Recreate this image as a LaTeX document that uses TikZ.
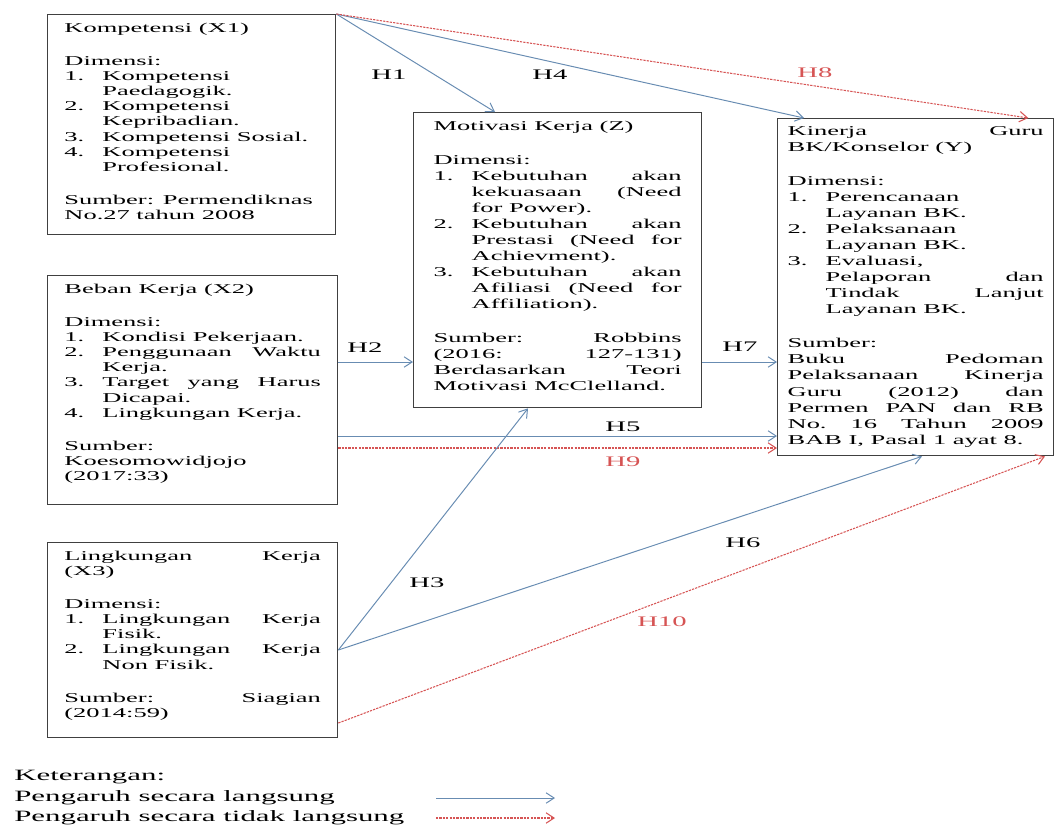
\documentclass[tikz,border=0pt]{standalone}
\usepackage{fontspec}
\setmainfont{Liberation Serif}[FakeStretch=1.96]
\usepackage{xcolor}
\usetikzlibrary{arrows.meta, calc}
\definecolor{garisbiru}{RGB}{104,140,178}
\definecolor{garismerah}{RGB}{214,84,84}
\newcommand\butir[2]{\makebox[0.95cm][l]{#1}#2}
\newcommand\lanjut[1]{\hspace*{0.95cm}#1}
\newcommand\isi[3]{\begin{minipage}[t][#2][t]{#1}#3\end{minipage}}
\tikzset{
	kotak/.style={draw=black!75, line width=0.9pt, anchor=north west, inner ysep=0.2cm, font=\fontsize{9.6}{10.8}\selectfont},
	kotakbesar/.style={kotak, font=\fontsize{9.6}{11.4}\selectfont},
	langsung/.style={draw=garisbiru, line width=0.7pt, -{Straight Barb[length=2mm,width=2.6mm]}},
	taklangsung/.style={draw=garismerah, line width=0.75pt, dash pattern=on 1.6pt off 0.8pt, -{Straight Barb[length=2mm,width=2.6mm]}},
	hip/.style={font=\fontsize{10.4}{12}\selectfont},
	ket/.style={anchor=west, inner sep=0pt, font=\fontsize{11.2}{14}\selectfont},
}

\begin{document}
\begin{tikzpicture}[x=0.025cm, y=-0.025cm]
				\useasboundingbox (0,0) rectangle (1056,825);
				\node[kotak, inner xsep=0.42cm] (x1) at (47,14) {\isi{6.36cm}{5.1cm}{Kompetensi (X1)\\[0.45cm]
					Dimensi:\\
					\butir{1.}{Kompetensi}\\
					\lanjut{Paedagogik.}\\
					\butir{2.}{Kompetensi}\\
					\lanjut{Kepribadian.}\\
					\butir{3.}{Kompetensi Sosial.}\\
					\butir{4.}{Kompetensi}\\
					\lanjut{Profesional.}\\[0.45cm]
					Sumber: Permendiknas\\
					No.27 tahun 2008}};
				\node[kotak, inner xsep=0.42cm] (x2) at (47,275) {\isi{6.41cm}{5.325cm}{Beban Kerja (X2)\\[0.45cm]
					Dimensi:\\
					\butir{1.}{Kondisi Pekerjaan.}\\
					\butir{2.}{Penggunaan\hfill Waktu}\\
					\lanjut{Kerja.}\\
					\butir{3.}{Target\hfill yang\hfill Harus}\\
					\lanjut{Dicapai.}\\
					\butir{4.}{Lingkungan Kerja.}\\[0.45cm]
					Sumber:\\
					Koesomowidjojo\\
					(2017:33)}};
				\node[kotak, inner xsep=0.42cm] (x3) at (47,542) {\isi{6.41cm}{4.475cm}{Lingkungan\hfill Kerja\\
					(X3)\\[0.45cm]
					Dimensi:\\
					\butir{1.}{Lingkungan\hfill Kerja}\\
					\lanjut{Fisik.}\\
					\butir{2.}{Lingkungan\hfill Kerja}\\
					\lanjut{Non Fisik.}\\[0.45cm]
					Sumber:\hfill Siagian\\
					(2014:59)}};
				\node[kotakbesar, inner xsep=0.5cm] (z) at (413,112) {\isi{6.2cm}{6.975cm}{Motivasi Kerja (Z)\\[0.45cm]
					Dimensi:\\
					\butir{1.}{Kebutuhan\hfill akan}\\
					\lanjut{kekuasaan\hfill (Need}\\
					\lanjut{for Power).}\\
					\butir{2.}{Kebutuhan\hfill akan}\\
					\lanjut{Prestasi\hfill (Need\hfill for}\\
					\lanjut{Achievment).}\\
					\butir{3.}{Kebutuhan\hfill akan}\\
					\lanjut{Afiliasi\hfill (Need\hfill for}\\
					\lanjut{Affiliation).}\\[0.45cm]
					Sumber:\hfill Robbins\\
					(2016:\hfill 127-131)\\
					Berdasarkan\hfill Teori\\
					Motivasi McClelland.}};
				\node[kotakbesar, inner xsep=0.25cm] (y) at (777,118) {\isi{6.4cm}{8.025cm}{Kinerja\hfill Guru\\
					BK/Konselor (Y)\\[0.45cm]
					Dimensi:\\
					\butir{1.}{Perencanaan}\\
					\lanjut{Layanan BK.}\\
					\butir{2.}{Pelaksanaan}\\
					\lanjut{Layanan BK.}\\
					\butir{3.}{Evaluasi,}\\
					\lanjut{Pelaporan\hfill dan}\\
					\lanjut{Tindak\hfill Lanjut}\\
					\lanjut{Layanan BK.}\\[0.45cm]
					Sumber:\\
					Buku\hfill Pedoman\\
					Pelaksanaan\hfill Kinerja\\
					Guru\hfill (2012)\hfill dan\\
					Permen\hfill PAN\hfill dan\hfill RB\\
					No.\hfill 16\hfill Tahun\hfill 2009\\
					BAB I, Pasal 1 ayat 8.}};
				\draw[langsung] (x1.north east) -- ($(z.north west)+(82,0)$);
				\draw[langsung] (x1.north east) -- ($(y.north west)+(27,0)$);
				\draw[taklangsung] (x1.north east) -- ($(y.north east)+(-26,0)$);
				\draw[langsung] ($(x2.north east)+(0,87)$) coordinate (a2) -- (a2 -| z.west);
				\draw[langsung] ($(z.north east)+(0,250)$) coordinate (a7) -- (a7 -| y.west);
				\draw[langsung] ($(x2.north east)+(0,161)$) coordinate (a5) -- (a5 -| y.west);
				\draw[taklangsung] ($(x2.north east)+(0,173)$) coordinate (a9) -- (a9 -| y.west);
				\draw[langsung] ($(x3.north east)+(0,108)$) coordinate (a3) -- ($(z.south west)+(115,0)$);
				\draw[langsung] (a3) -- ($(y.south west)+(145,0)$);
				\draw[taklangsung] ($(x3.north east)+(0,181)$) -- ($(y.south west)+(268,0)$);
				\node[hip] (h1) at (389,75) {H1};
				\node[hip] (h4) at (550,75) {H4};
				\node[hip, text=garismerah] (h8) at (815,73) {H8};
				\node[hip] (h2) at (365,348) {H2};
				\node[hip] (h7) at (740,347) {H7};
				\node[hip] (h5) at (623,427) {H5};
				\node[hip, text=garismerah] (h9) at (623,462) {H9};
				\node[hip] (h3) at (427,583) {H3};
				\node[hip] (h6) at (743,543) {H6};
				\node[hip, text=garismerah] (h10) at (662,622) {H10};
				\node[ket] (keterangan) at (14,777) {Keterangan:};
				\node[ket] (lgs) at (14,798) {Pengaruh secara langsung};
				\node[ket] (tdk) at (14,818) {Pengaruh secara tidak langsung};
				\draw[langsung] ($(lgs.west)+(422,0)$) -- ($(lgs.west)+(541,0)$);
				\draw[taklangsung] ($(tdk.west)+(422,0)$) -- ($(tdk.west)+(541,0)$);
			\end{tikzpicture}
\end{document}
